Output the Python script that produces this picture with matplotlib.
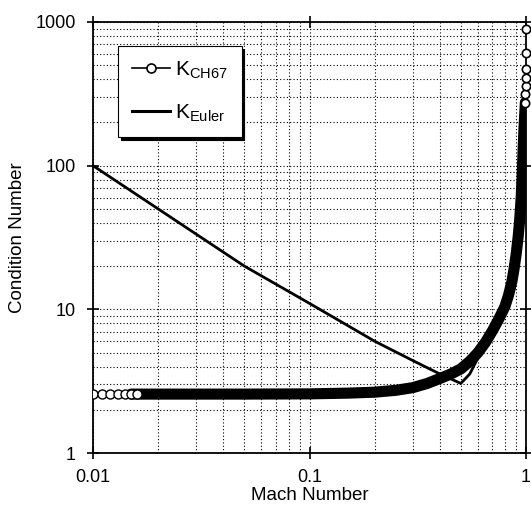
import matplotlib
matplotlib.use('Agg')
import matplotlib.pyplot as plt
from matplotlib.lines import Line2D
from matplotlib.ticker import LogLocator, NullFormatter

plt.rcParams['font.family'] = ['Liberation Sans', 'DejaVu Sans']
plt.rcParams['mathtext.fontset'] = 'custom'
plt.rcParams['mathtext.rm'] = 'Liberation Sans'

# K_CH67 (centre of the overlapping markers)
ch67_mach = [0.015, 0.02, 0.03, 0.05, 0.1, 0.15, 0.2, 0.25, 0.3, 0.35, 0.4, 0.45, 0.5, 0.55,
             0.6, 0.65, 0.7, 0.75, 0.8, 0.83, 0.86, 0.88, 0.9, 0.92, 0.935, 0.95, 0.96,
             0.97, 0.98, 0.99, 0.993]
ch67_k = [2.57, 2.57, 2.57, 2.57, 2.58, 2.61, 2.65, 2.73, 2.85, 3.05, 3.3, 3.55, 3.85, 4.35,
          5.0, 5.9, 7.1, 8.6, 10.5, 12.5, 15.5, 19.0, 24.0, 32.0, 42.0, 60.0, 85.0,
          130.0, 190.0, 250.0, 275.0]
# single markers still visible at the low-Mach end
ch67_low_mach = [0.010, 0.011, 0.012, 0.013, 0.014, 0.015, 0.016]
ch67_low_k = [2.57, 2.57, 2.57, 2.57, 2.57, 2.57, 2.57]
# single markers visible at the top right edge
ch67_top_mach = [0.993, 0.994, 0.995, 0.996, 0.997, 0.998, 0.999]
ch67_top_k = [275.0, 316.0, 360.0, 407.0, 470.0, 610.0, 890.0]

# K_Euler (right branch mostly hidden inside the CH67 band)
euler_mach = [0.01, 0.02, 0.05, 0.1, 0.2, 0.3, 0.4, 0.5, 0.55, 0.6, 0.7, 0.8, 0.875, 0.93]
euler_k = [100.0, 50.0, 20.0, 11.0, 6.0, 4.4, 3.55, 3.05, 3.55, 4.6, 7.0, 10.6, 19.0, 40.0]

xticks = [0.01, 0.1, 1]
xtick_labels = ['0.01', '0.1', '1']
yticks = [1, 10, 100, 1000]
ytick_labels = ['1', '10', '100', '1000']

fig = plt.figure(figsize=(5.31, 5.21), dpi=100)
ax = fig.add_axes([93/531, 1-453/521, 433/531, 431/521])
ax.set_xscale('log')
ax.set_yscale('log')
ax.set_xlim(0.01, 1)
ax.set_ylim(1, 1000)

ax.set_axisbelow(True)
ax.xaxis.set_minor_locator(LogLocator(base=10, subs=range(2, 10)))
ax.yaxis.set_minor_locator(LogLocator(base=10, subs=range(2, 10)))
ax.xaxis.set_minor_formatter(NullFormatter())
ax.yaxis.set_minor_formatter(NullFormatter())
ax.grid(True, which='both', color='black', linestyle=(0, (1, 2)), linewidth=0.8)

ax.plot(euler_mach, euler_k, color='black', lw=2.0, zorder=3)
ax.plot(ch67_mach, ch67_k, color='black', lw=8, solid_capstyle='round',
        solid_joinstyle='round', zorder=4)
ax.plot(ch67_low_mach, ch67_low_k, 'o', color='black', mfc='white', ms=6.5, mew=1.0, zorder=5)
ax.plot(ch67_top_mach, ch67_top_k, 'o', color='black', mfc='white', ms=6.0, mew=1.2,
        zorder=5, clip_on=False)

ax.set_xticks(xticks)
ax.set_xticklabels(xtick_labels)
ax.set_yticks(yticks)
ax.set_yticklabels(ytick_labels)
ax.tick_params(which='major', direction='inout', length=9, width=1.2, top=True, right=True,
               labelsize=13)
ax.tick_params(axis='y', pad=8)
ax.tick_params(axis='x', pad=7)
ax.tick_params(which='minor', length=0)
for s in ax.spines.values():
    s.set_linewidth(1.3)

ax.set_xlabel('Mach Number', fontsize=13.5)
ax.set_ylabel('Condition Number', fontsize=13.5)
ax.xaxis.set_label_coords(0.5, -0.08)
ax.yaxis.set_label_coords(-0.155, 0.5)

handles = [Line2D([], [], color='black', lw=1.2, marker='o', mfc='white', ms=6.5, mew=1.2),
           Line2D([], [], color='black', lw=2.2)]
labels = [r'K$_\mathrm{CH67}$', r'K$_\mathrm{Euler}$']
leg = ax.legend(handles, labels, loc='upper left', bbox_to_anchor=(0.058, 0.944),
                borderaxespad=0, fontsize=15, handlelength=1.85, handletextpad=0.25,
                labelspacing=1.0, borderpad=0.65, fancybox=False, framealpha=1,
                edgecolor='black', shadow={'color': 'black', 'alpha': 1.0})
leg.get_frame().set_linewidth(0.8)

fig.savefig('out.png', dpi=100)
